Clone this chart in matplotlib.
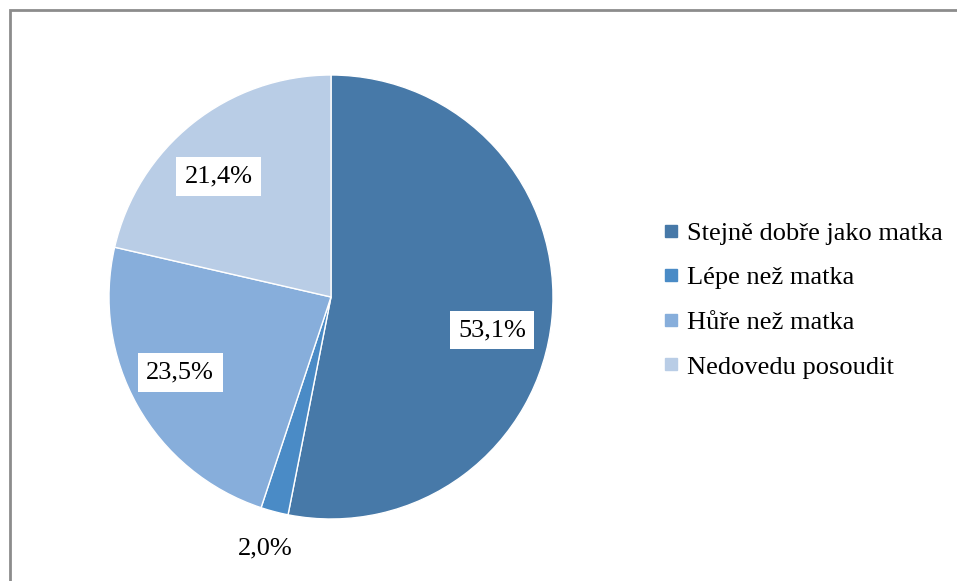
import numpy as np
import matplotlib.pyplot as plt
from matplotlib.lines import Line2D
from matplotlib.patches import Rectangle

categories = ['Stejně dobře jako matka', 'Lépe než matka', 'Hůře než matka', 'Nedovedu posoudit']
values = [53.1, 2.0, 23.5, 21.4]
colors = ['#4779A8', '#4A8BC6', '#87AEDB', '#B9CDE6']
# label placement: radial distance and angle shift (deg) from slice middle
label_dist = [0.74, 1.17, 0.76, 0.74]
label_shift = [-6, 0, -2.7, 4.5]

plt.rcParams['font.family'] = ['Liberation Serif', 'DejaVu Serif']

W, H = 957, 581
fig = plt.figure(figsize=(W / 100, H / 100), dpi=100)

# pie centre (331, 297) px, radius 222 px
cx, cy, r = 331, 297, 222
ax = fig.add_axes([(cx - r) / W, (H - cy - r) / H, 2 * r / W, 2 * r / H])
wedges, _ = ax.pie(values, colors=colors, startangle=90, counterclock=False,
                   wedgeprops=dict(edgecolor='white', linewidth=1))
ax.set_xlim(-1, 1)
ax.set_ylim(-1, 1)
ax.set_aspect('equal')
ax.axis('off')

for w, v, d, s in zip(wedges, values, label_dist, label_shift):
    ang = np.deg2rad((w.theta1 + w.theta2) / 2 + s)
    txt = f'{v:.1f}%'.replace('.', ',')
    box = dict(facecolor='white', edgecolor='none', pad=6) if d < 1 else None
    ax.text(d * np.cos(ang), d * np.sin(ang), txt, ha='center', va='center',
            fontsize=19, bbox=box, clip_on=False)

handles = [Line2D([], [], marker='s', linestyle='none', markersize=8,
                  markerfacecolor=c, markeredgecolor=c) for c in colors]
fig.legend(handles, categories, loc='center left', bbox_to_anchor=(647 / W, 1 - 300 / H),
           frameon=False, fontsize=19, handletextpad=0.1, labelspacing=0.8,
           handlelength=1.0, borderaxespad=0)

fig.add_artist(Rectangle((9.5 / W, -0.1), 1.2, 1 - 10 / H + 0.1, transform=fig.transFigure,
                         fill=False, edgecolor='#8C8C8C', linewidth=2))

fig.savefig('out.png', dpi=100)
